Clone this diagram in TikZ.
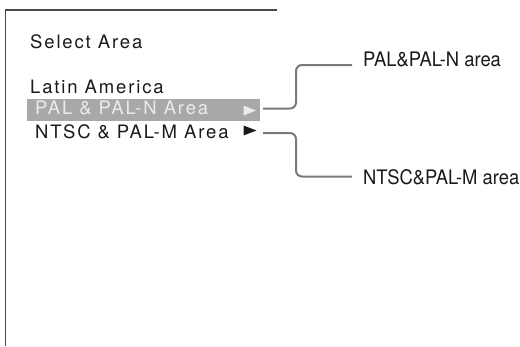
\documentclass[tikz,border=0pt]{standalone}
\usepackage{fontspec}
\setmainfont{TeX Gyre Heros}
\newfontfamily\menufont[LetterSpace=10]{TeX Gyre Heros}
\newfontfamily\labelfont[FakeStretch=0.92]{TeX Gyre Heros}
\definecolor{framecol}{HTML}{4A4A4A}
\definecolor{conncol}{HTML}{7A7A7A}
\definecolor{hlbox}{HTML}{A8A8A8}
\definecolor{hltext}{HTML}{EBEBEB}
\definecolor{txt}{HTML}{1A1A1A}
\tikzset{
  menutext/.style={anchor=base west, inner sep=0pt, text=txt, font=\menufont\fontsize{18.5}{20}\selectfont},
  lbl/.style={anchor=west, inner sep=0pt, text=txt, font=\labelfont\fontsize{20}{22}\selectfont},
  conn/.style={draw=conncol, line width=2pt, rounded corners=6pt},
  framel/.style={draw=framecol, line width=1.5pt},
  tri/.style={fill=#1, draw=none}
}
\begin{document}
\begin{tikzpicture}[x=1pt,y=-1pt]
\useasboundingbox (0,0) rectangle (520,346);
% frame
\coordinate (fb) at (5.5,346);
\coordinate (fc) at (5.5,10);
\coordinate (fr) at (277,10);
\draw[framel] (fb) -- (fc) -- (fr);
% highlight bar
\node[fill=hlbox, minimum width=233pt, minimum height=22pt, inner sep=0pt, anchor=north west] (hl) at (27,99) {};
% menu texts
\node[menutext] (sel) at (30,48.3) {Select Area};
\node[menutext] (lat) at (30,93) {Latin America};
\node[menutext, text=hltext] (pal) at (35,114) {PAL \& PAL-N Area};
\node[menutext] (ntsc) at (35,138) {NTSC \& PAL-M Area};
% arrows
\path[tri=hltext] (243.5,105.5) -- (256,110.5) -- (243.5,115.5) -- cycle;
\path[tri=txt] (243.5,125.5) -- (256.5,130.5) -- (243.5,135.5) -- cycle;
% labels
\node[lbl] (l1) at (363,59) {PAL\&PAL-N area};
\node[lbl] (l2) at (363,177.5) {NTSC\&PAL-M area};
% connectors
\coordinate (s1) at (263,108.5);
\coordinate (e1) at (352,65);
\coordinate (s2) at (263,133);
\coordinate (e2) at (352,176.5);
\draw[conn] (s1) -- (296,108.5) -- (296,65) -- (e1);
\draw[conn] (s2) -- (296,133) -- (296,176.5) -- (e2);
\end{tikzpicture}
\end{document}
